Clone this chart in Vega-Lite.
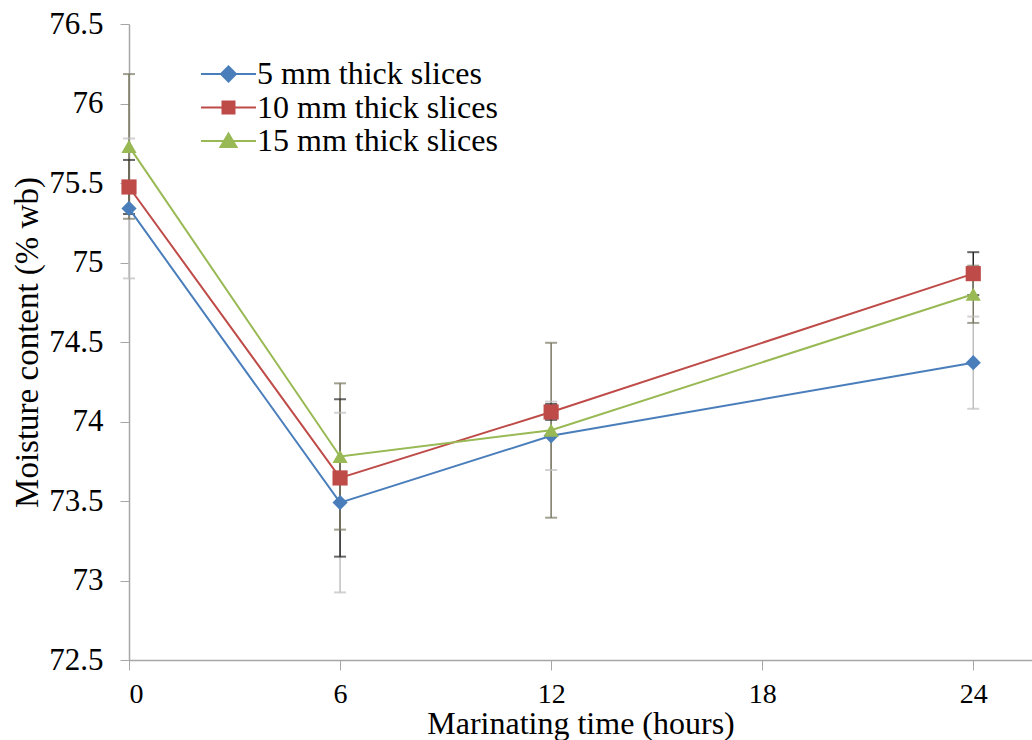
{
  "$schema": "https://vega.github.io/schema/vega-lite/v6.json",
  "width": 903,
  "height": 636,
  "autosize": "none",
  "padding": {"left": 129, "top": 24, "right": 0, "bottom": 80},
  "background": "white",
  "config": {"view": {"stroke": null}, "font": "Liberation Serif"},
  "data": {
    "values": [
      {"series": "5 mm thick slices", "time": 0, "value": 75.34, "lo": 74.9, "hi": 75.78},
      {"series": "5 mm thick slices", "time": 6, "value": 73.49, "lo": 72.925, "hi": 74.055},
      {"series": "5 mm thick slices", "time": 12, "value": 73.91, "lo": 73.695, "hi": 74.125},
      {"series": "5 mm thick slices", "time": 24, "value": 74.37, "lo": 74.08, "hi": 74.66},
      {"series": "10 mm thick slices", "time": 0, "value": 75.475, "lo": 75.305, "hi": 75.645},
      {"series": "10 mm thick slices", "time": 6, "value": 73.645, "lo": 73.15, "hi": 74.14},
      {"series": "10 mm thick slices", "time": 12, "value": 74.06, "lo": 74.01, "hi": 74.11},
      {"series": "10 mm thick slices", "time": 24, "value": 74.93, "lo": 74.795, "hi": 75.065},
      {"series": "15 mm thick slices", "time": 0, "value": 75.73, "lo": 75.275, "hi": 76.185},
      {"series": "15 mm thick slices", "time": 6, "value": 73.78, "lo": 73.32, "hi": 74.24},
      {"series": "15 mm thick slices", "time": 12, "value": 73.945, "lo": 73.395, "hi": 74.495},
      {"series": "15 mm thick slices", "time": 24, "value": 74.8, "lo": 74.62, "hi": 74.98}
    ]
  },
  "encoding": {
    "x": {
      "field": "time",
      "type": "quantitative",
      "scale": {"domain": [0, 25.67], "nice": false, "zero": false},
      "axis": {
        "values": [0, 6, 12, 18, 24],
        "title": "Marinating time (hours)",
        "titleFont": "Liberation Serif",
        "titleFontSize": 32,
        "titleFontWeight": "normal",
        "titleColor": "black",
        "titlePadding": 0,
        "labelFont": "Liberation Serif",
        "labelFontSize": 28,
        "labelColor": "black",
        "labelPadding": 10,
        "tickSize": 10,
        "tickColor": "#a6a6a6",
        "domainColor": "#a6a6a6",
        "domainWidth": 1.5,
        "grid": false
      }
    }
  },
  "layer": [
    {
      "mark": {"type": "rule", "strokeWidth": 1.5},
      "encoding": {
        "y": {"field": "lo", "type": "quantitative", "scale": {"domain": [72.5, 76.5], "nice": false, "zero": false},
          "axis": {
            "values": [72.5, 73, 73.5, 74, 74.5, 75, 75.5, 76, 76.5],
            "format": "~f",
            "title": "Moisture content (% wb)",
            "titleFont": "Liberation Serif",
            "titleFontSize": 33,
            "titleFontWeight": "normal",
            "titleColor": "black",
            "titlePadding": 4,
            "labelFont": "Liberation Serif",
            "labelFontSize": 31,
            "labelColor": "black",
            "labelPadding": 17,
            "tickSize": 9,
            "tickColor": "#a6a6a6",
            "domainColor": "#a6a6a6",
            "domainWidth": 1.5,
            "grid": false
          }},
        "y2": {"field": "hi"},
        "color": {"field": "series", "type": "nominal",
          "scale": {"domain": ["5 mm thick slices", "10 mm thick slices", "15 mm thick slices"], "range": ["#bfbfbf", "#262626", "#7a7862"]},
          "legend": null}
      }
    },
    {
      "mark": {"type": "tick", "orient": "horizontal", "thickness": 2, "size": 12},
      "encoding": {
        "y": {"field": "lo", "type": "quantitative"},
        "color": {"field": "series", "type": "nominal",
          "scale": {"domain": ["5 mm thick slices", "10 mm thick slices", "15 mm thick slices"], "range": ["#bfbfbf", "#262626", "#7a7862"]},
          "legend": null}
      }
    },
    {
      "mark": {"type": "tick", "orient": "horizontal", "thickness": 2, "size": 12},
      "encoding": {
        "y": {"field": "hi", "type": "quantitative"},
        "color": {"field": "series", "type": "nominal",
          "scale": {"domain": ["5 mm thick slices", "10 mm thick slices", "15 mm thick slices"], "range": ["#bfbfbf", "#262626", "#7a7862"]},
          "legend": null}
      }
    },
    {
      "mark": {"type": "line", "strokeWidth": 2},
      "encoding": {
        "y": {"field": "value", "type": "quantitative"},
        "color": {"field": "series", "type": "nominal",
          "scale": {"domain": ["5 mm thick slices", "10 mm thick slices", "15 mm thick slices"], "range": ["#4a7ebb", "#be4b48", "#98b954"]},
          "legend": {
            "title": null,
            "orient": "none",
            "legendX": 83.5,
            "legendY": 34,
            "padding": 0,
            "symbolSize": 100,
            "symbolStrokeWidth": 2,
            "symbolOffset": 0,
            "labelOffset": 12.5,
            "labelLimit": 0,
            "rowPadding": 1.5,
            "labelFont": "Liberation Serif",
            "labelFontSize": 32,
            "labelColor": "black",
            "encode": {
              "symbols": {
                "update": {
                  "shape": {"signal": "datum.value === '5 mm thick slices' ? 'M-5.5,0H5.5M-1.5,0L0,-1.5L1.5,0L0,1.5Z' : datum.value === '10 mm thick slices' ? 'M-5.5,0H5.5M-1.2,-1.2H1.2V1.2H-1.2Z' : 'M-5.5,0H5.5M0,-1.5L1.6,1.2H-1.6Z'"},
                  "fill": {"signal": "datum.value === '5 mm thick slices' ? '#4a7ebb' : datum.value === '10 mm thick slices' ? '#be4b48' : '#98b954'"},
                  "stroke": {"signal": "datum.value === '5 mm thick slices' ? '#4a7ebb' : datum.value === '10 mm thick slices' ? '#be4b48' : '#98b954'"},
                  "strokeWidth": {"value": 2}
                }
              }
            }
          }}
      }
    },
    {
      "mark": {"type": "point", "filled": true, "opacity": 1, "size": 230},
      "encoding": {
        "y": {"field": "value", "type": "quantitative"},
        "color": {"field": "series", "type": "nominal",
          "scale": {"domain": ["5 mm thick slices", "10 mm thick slices", "15 mm thick slices"], "range": ["#4a7ebb", "#be4b48", "#98b954"]},
          "legend": null},
        "shape": {"field": "series", "type": "nominal",
          "scale": {"domain": ["5 mm thick slices", "10 mm thick slices", "15 mm thick slices"], "range": ["diamond", "square", "triangle-up"]},
          "legend": null}
      }
    }
  ],
  "resolve": {"scale": {"color": "independent"}, "legend": {"color": "independent"}}
}
